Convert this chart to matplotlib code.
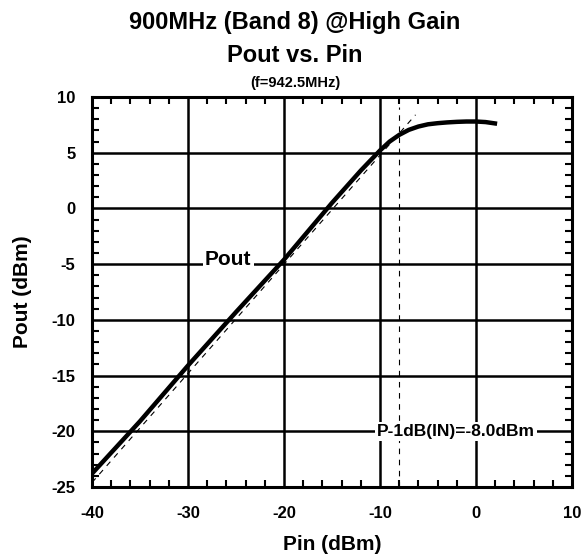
import matplotlib
matplotlib.use("Agg")
import matplotlib.pyplot as plt

# Measured Pout vs Pin (f=942.5MHz)
pin = [-40, -35, -30, -25, -20, -15, -12, -11, -10, -9, -8, -7, -6, -5, -4, -3, -2, -1, 0, 1, 2.2]
pout = [-23.8, -19.1, -14.1, -9.3, -4.6, 0.5, 3.4, 4.3, 5.2, 6.0, 6.6, 7.05, 7.35, 7.55, 7.65, 7.72, 7.77, 7.8, 7.8, 7.75, 7.6]

# ideal linear gain line
lin_pin = [-40, -6.3]
lin_pout = [-24.6, 8.4]

p1db_in = -8.0
p1db_top = 9.1

xticks = [-40, -30, -20, -10, 0, 10]
yticks = [-25, -20, -15, -10, -5, 0, 5, 10]

plt.rcParams['font.family'] = ['Liberation Sans', 'DejaVu Sans']
plt.rcParams['font.weight'] = 'bold'
plt.rcParams['axes.unicode_minus'] = False

fig = plt.figure(figsize=(5.84, 5.59), dpi=100)
ax = fig.add_axes([92 / 584, 1 - 487 / 559, 480 / 584, 390 / 559])

ax.set_xlim(-40, 10)
ax.set_ylim(-25, 10)
ax.set_xticks(xticks)
ax.set_yticks(yticks)
ax.set_xticks(range(-40, 11, 2), minor=True)
ax.set_yticks(range(-25, 11, 1), minor=True)
ax.grid(True, which='major', color='black', linewidth=1.8)
ax.tick_params(which='both', direction='in', top=True, right=True,
               labelsize=12, width=1.5)
ax.tick_params(axis='x', pad=14)
ax.tick_params(axis='y', pad=12)
ax.tick_params(which='major', length=0)
ax.tick_params(which='minor', length=5)
for s in ax.spines.values():
    s.set_linewidth(2.2)
for lbl in ax.get_xticklabels() + ax.get_yticklabels():
    lbl.set_fontweight('bold')

ax.plot(lin_pin, lin_pout, color='black', linestyle=(0, (5, 5)), linewidth=0.8)
ax.plot([p1db_in, p1db_in], [-25, p1db_top], color='black', linestyle=(0, (5, 5)), linewidth=0.8)
ax.plot(pin, pout, color='black', linewidth=3.2, solid_capstyle='butt')

box = dict(facecolor='white', edgecolor='none', pad=1.5)
ax.text(-25.8, -4.6, 'Pout', fontsize=15, fontweight='bold', ha='center', va='center', bbox=box)
ax.text(-2.1, -20, 'P-1dB(IN)=-8.0dBm', fontsize=12.5, fontweight='bold', ha='center', va='center', bbox=box)

ax.set_xlabel('Pin (dBm)', fontsize=15, fontweight='bold', labelpad=10)
ax.set_ylabel('Pout (dBm)', fontsize=15, fontweight='bold', labelpad=14)

fig.text(0.505, 1 - 22 / 559, '900MHz (Band 8) @High Gain', fontsize=17, fontweight='bold', ha='center', va='center')
fig.text(0.505, 1 - 55 / 559, 'Pout vs. Pin', fontsize=17, fontweight='bold', ha='center', va='center')
fig.text(0.505, 1 - 83 / 559, '(f=942.5MHz)', fontsize=10.5, fontweight='bold', ha='center', va='center')

fig.savefig('out.png', dpi=100)
